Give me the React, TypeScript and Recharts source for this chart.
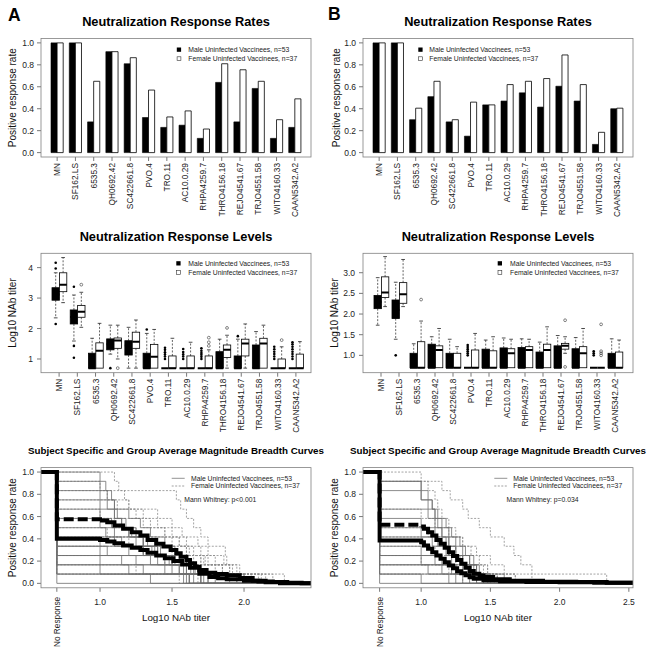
import React from "react";
import { BarChart, Bar, ComposedChart, LineChart, Line, XAxis, YAxis } from "recharts";

const W = 649;
const H = 654;
const FONT = '"Liberation Sans", Arial, Helvetica, sans-serif';

// isolates shown on the x axis of the top and middle rows
const isolates = [
  "MN", "SF162.LS", "6535.3", "QH0692.42", "SC422661.8", "PVO.4", "TRO.11",
  "AC10.0.29", "RHPA4259.7", "THRO4156.18", "REJO4541.67", "TRJO4551.58",
  "WITO4160.33", "CAAN5342.A2",
];

// positive response rates
const rateMaleA = [1.0, 1.0, 0.28, 0.92, 0.81, 0.32, 0.23, 0.25, 0.13, 0.64, 0.28, 0.585, 0.13, 0.23];
const rateFemaleA = [1.0, 1.0, 0.65, 0.92, 0.865, 0.57, 0.325, 0.38, 0.215, 0.81, 0.755, 0.65, 0.3, 0.49];
const rateMaleB = [1.0, 1.0, 0.3, 0.51, 0.28, 0.15, 0.435, 0.47, 0.545, 0.415, 0.605, 0.47, 0.075, 0.4];
const rateFemaleB = [1.0, 1.0, 0.405, 0.65, 0.3, 0.46, 0.435, 0.62, 0.65, 0.675, 0.89, 0.62, 0.185, 0.405];

// box stats: [lower whisker, q1, median, q3, upper whisker]
const boxMaleA = [
  [2.35, 2.93, 3.12, 3.34, 3.83], [1.59, 2.15, 2.38, 2.61, 3.1], [0.7, 0.7, 0.7, 1.19, 1.68],
  [1.16, 1.3, 1.48, 1.66, 2.11], [0.7, 1.13, 1.44, 1.6, 2.04], [0.7, 0.7, 0.7, 1.19, 1.84],
  [0.7, 0.7, 0.7, 0.7, 0.7], [0.7, 0.7, 0.7, 0.7, 0.7], [0.7, 0.7, 0.7, 0.7, 0.7],
  [0.7, 0.7, 0.7, 1.24, 1.65], [0.7, 0.7, 0.7, 1.1, 1.65], [0.7, 0.7, 0.7, 1.46, 1.9],
  [0.7, 0.7, 0.7, 0.7, 0.7], [0.7, 0.7, 0.7, 0.7, 0.7],
];
const outMaleA = [
  [4.16, 3.97, 2.15], [3.37, 1.43, 1.04], [], [0.7], [], [1.97],
  [1.0, 1.08, 1.15, 1.22, 1.3, 1.37], [1.0, 1.08, 1.15, 1.23, 1.33], [1.0, 1.07, 1.14, 1.2, 1.27, 1.35],
  [], [1.75], [], [1.0, 1.08, 1.16, 1.24, 1.32, 1.4], [1.0, 1.08, 1.16, 1.24, 1.32, 1.4, 1.48, 1.55],
];
const boxFemaleA = [
  [2.85, 3.21, 3.44, 3.83, 4.33], [2.04, 2.37, 2.55, 2.76, 3.19], [0.7, 0.7, 1.27, 1.53, 2.17],
  [1.0, 1.35, 1.61, 1.69, 2.11], [0.7, 1.35, 1.57, 1.88, 2.28], [0.7, 0.7, 1.07, 1.48, 1.97],
  [0.7, 0.7, 0.7, 1.1, 1.68], [0.7, 0.7, 0.7, 1.1, 1.55], [0.7, 0.7, 0.7, 1.1, 1.3],
  [0.7, 1.05, 1.3, 1.46, 1.78], [0.7, 1.1, 1.51, 1.65, 2.15], [0.7, 0.7, 1.51, 1.68, 2.11],
  [0.7, 0.7, 0.7, 1.0, 1.4], [0.7, 0.7, 0.7, 1.16, 1.57],
];
const outFemaleA = [[], [3.44], [], [0.7], [], [], [], [], [1.43, 1.55, 1.7], [2.02], [], [], [1.62], []];

const boxMaleB = [
  [1.73, 2.13, 2.29, 2.45, 2.88], [1.39, 1.89, 2.1, 2.34, 2.77], [0.7, 0.7, 0.7, 1.05, 1.28],
  [0.7, 0.7, 0.7, 1.27, 1.45], [0.7, 0.7, 0.7, 1.05, 1.39], [0.7, 0.7, 0.7, 0.7, 0.7],
  [0.7, 0.7, 0.7, 1.15, 1.37], [0.7, 0.7, 0.7, 1.18, 1.42], [0.7, 0.7, 0.7, 1.19, 1.4],
  [0.7, 0.7, 0.7, 1.08, 1.32], [0.7, 0.7, 0.7, 1.23, 1.48], [0.7, 0.7, 0.7, 1.16, 1.43],
  [0.7, 0.7, 0.7, 0.7, 0.7], [0.7, 0.7, 0.7, 1.05, 1.4],
];
const outMaleB = [[], [1.0], [], [], [], [1.0, 1.05, 1.1, 1.15, 1.2, 1.25], [], [], [], [], [], [], [1.0, 1.05, 1.1], []];
const boxFemaleB = [
  [2.18, 2.4, 2.52, 2.9, 3.39], [2.18, 2.26, 2.48, 2.76, 3.32], [0.7, 0.7, 0.7, 1.33, 1.83],
  [0.7, 0.7, 1.13, 1.23, 1.65], [0.7, 0.7, 0.7, 1.05, 1.21], [0.7, 0.7, 0.7, 1.13, 1.53],
  [0.7, 0.7, 0.7, 1.11, 1.45], [0.7, 0.7, 1.05, 1.16, 1.39], [0.7, 0.7, 1.13, 1.21, 1.39],
  [0.7, 0.7, 1.13, 1.27, 1.69], [1.05, 1.15, 1.23, 1.29, 1.45], [0.7, 0.7, 1.05, 1.21, 1.65],
  [0.7, 0.7, 0.7, 0.7, 0.7], [0.7, 0.7, 0.7, 1.08, 1.37],
];
const outFemaleB = [[], [], [2.35], [], [], [], [], [], [], [], [1.85, 0.72], [], [1.0, 1.05, 1.1, 1.75], []];

// magnitude breadth: log10 titers of positive tier 2 isolates per subject
const NO_RESPONSE = 0.7;
const N_TIER2 = 12;
const subjMaleA = [
  [1.0, 1.04, 1.08, 1.1, 1.12, 1.15, 1.2, 1.3, 1.38, 1.45, 1.6, 1.7],
  [1.0, 1.0, 1.05, 1.1, 1.18, 1.25, 1.33, 1.42, 1.5, 1.55, 1.62],
  [1.05, 1.1, 1.2, 1.28, 1.35, 1.45, 1.52, 1.6, 1.68, 1.75],
  [1.0, 1.1, 1.15, 1.22, 1.3, 1.4, 1.5, 1.58, 1.65],
  [1.0, 1.08, 1.2, 1.3, 1.36, 1.48, 1.6, 1.72],
  [1.0, 1.1, 1.25, 1.4, 1.55, 1.63, 1.8],
  [1.04, 1.15, 1.3, 1.5, 1.66, 1.75],
  [1.0, 1.2, 1.35, 1.55, 1.7],
  [1.1, 1.3, 1.52, 1.68, 1.95],
  [1.0, 1.25, 1.45, 1.6],
  [1.05, 1.4, 1.65, 1.9],
  [1.0, 1.3, 1.62],
  [1.15, 1.5, 2.0],
  [1.0, 1.58],
  [1.2, 1.7],
  [1.35],
  [1.62],
  [],
];
const subjFemaleA = [
  [1.1, 1.13, 1.17, 1.2, 1.25, 1.35, 1.45, 1.55, 1.62, 1.7, 1.85, 2.0],
  [1.0, 1.05, 1.12, 1.3, 1.4, 1.5, 1.55, 1.6, 1.72, 1.8, 2.05],
  [1.53, 1.56, 1.6, 1.65, 1.7, 1.75, 1.87, 1.88, 1.97, 2.28],
  [1.2, 1.4, 1.5, 1.57, 1.68, 1.75, 1.86, 1.95, 2.15],
  [1.0, 1.3, 1.45, 1.6, 1.7, 1.8, 1.92, 2.12],
  [1.1, 1.25, 1.5, 1.65, 1.73, 1.9, 2.0],
  [1.05, 1.4, 1.6, 1.75, 1.85, 2.2],
  [1.2, 1.5, 1.7, 1.9, 2.1],
  [1.3, 1.65, 1.85, 2.05],
  [1.45, 1.7, 1.95],
  [1.25, 1.68],
  [1.55],
];
const subjMaleB = [
  [1.0, 1.05, 1.08, 1.1, 1.12, 1.15, 1.18, 1.2, 1.22, 1.25, 1.3],
  [1.0, 1.0, 1.05, 1.1, 1.15, 1.2, 1.25, 1.3, 1.35, 1.4, 1.45],
  [1.0, 1.08, 1.12, 1.18, 1.22, 1.28, 1.32, 1.38, 1.42, 1.48],
  [1.05, 1.1, 1.15, 1.2, 1.25, 1.3, 1.36, 1.4],
  [1.0, 1.1, 1.2, 1.25, 1.35, 1.4, 1.45],
  [1.0, 1.12, 1.2, 1.3, 1.38, 1.5],
  [1.08, 1.18, 1.28, 1.4, 1.48],
  [1.0, 1.15, 1.25, 1.35],
  [1.1, 1.22, 1.45],
  [1.0, 1.3, 1.6],
  [1.05, 1.2],
  [1.15, 1.4],
  [1.0],
  [1.25],
  [],
];
const subjFemaleB = [
  [1.0, 1.05, 1.1, 1.12, 1.15, 1.2, 1.25, 1.3, 1.36, 1.42, 1.48, 1.55],
  [1.15, 1.21, 1.3, 1.34, 1.42, 1.5, 1.6, 1.67, 1.72, 1.8, 2.34],
  [1.0, 1.1, 1.2, 1.3, 1.4, 1.5, 1.6, 1.68],
  [1.05, 1.15, 1.25, 1.35, 1.48, 1.55],
  [1.0, 1.2, 1.3, 1.45, 1.53],
  [1.1, 1.25, 1.4, 1.8],
  [1.0, 1.35, 1.55],
  [1.2, 1.68],
  [1.3],
];

// group average curves [log10 titer, rate]
const avgMaleA = [
  [0.59, 1], [0.7, 0.4], [1.0, 0.39], [1.05, 0.375], [1.1, 0.36], [1.16, 0.34], [1.22, 0.32],
  [1.28, 0.3], [1.33, 0.275], [1.39, 0.25], [1.45, 0.225], [1.51, 0.2], [1.57, 0.17], [1.625, 0.14],
  [1.69, 0.087], [1.76, 0.057], [1.82, 0.045], [1.88, 0.036], [2.0, 0.024], [2.1, 0.017],
  [2.2, 0.012], [2.3, 0.005], [2.4, 0], [2.465, 0],
];
const avgFemaleA = [
  [0.59, 1], [0.7, 0.575], [1.0, 0.565], [1.05, 0.55], [1.1, 0.52], [1.16, 0.49], [1.22, 0.46],
  [1.28, 0.43], [1.33, 0.39], [1.39, 0.356], [1.44, 0.33], [1.49, 0.3], [1.53, 0.27], [1.56, 0.24],
  [1.6, 0.21], [1.625, 0.18], [1.66, 0.15], [1.69, 0.12], [1.74, 0.096], [1.8, 0.085],
  [1.88, 0.072], [1.97, 0.048], [2.06, 0.024], [2.15, 0.01], [2.25, 0], [2.465, 0],
];
const avgMaleB = [
  [0.58, 1], [0.7, 0.386], [1.0, 0.37], [1.02, 0.34], [1.05, 0.31], [1.08, 0.28], [1.11, 0.25],
  [1.14, 0.22], [1.17, 0.19], [1.2, 0.16], [1.23, 0.135], [1.26, 0.108], [1.29, 0.09], [1.32, 0.072],
  [1.35, 0.055], [1.38, 0.042], [1.45, 0.027], [1.57, 0.018], [1.76, 0.012], [2.0, 0.009],
  [2.25, 0.006], [2.53, 0.003],
];
const avgFemaleB = [
  [0.58, 1], [0.7, 0.527], [1.0, 0.51], [1.02, 0.49], [1.05, 0.46], [1.08, 0.43], [1.11, 0.39],
  [1.14, 0.356], [1.17, 0.32], [1.2, 0.28], [1.23, 0.245], [1.26, 0.21], [1.29, 0.175], [1.32, 0.14],
  [1.35, 0.11], [1.38, 0.087], [1.42, 0.07], [1.45, 0.057], [1.52, 0.036], [1.64, 0.024],
  [1.88, 0.015], [2.12, 0.012], [2.34, 0.006], [2.53, 0],
];

const rateTicks = [0, 0.2, 0.4, 0.6, 0.8, 1.0];

type Box = { x0: number; x1: number; y0: number; y1: number };
const boxTopA: Box = { x0: 41, x1: 311, y0: 38.5, y1: 157 };
const boxTopB: Box = { x0: 363, x1: 633, y0: 38.5, y1: 157 };
const boxMidA: Box = { x0: 41, x1: 311, y0: 253.3, y1: 372.7 };
const boxMidB: Box = { x0: 363, x1: 633, y0: 253.3, y1: 372.7 };
const boxBotA: Box = { x0: 41, x1: 311, y0: 467.6, y1: 587.8 };
const boxBotB: Box = { x0: 363, x1: 633, y0: 467.6, y1: 587.8 };

const layer: React.CSSProperties = { position: "absolute", left: 0, top: 0 };
const tickStyle = { fontSize: 8.5, fill: "#222", fontFamily: FONT };
const tickLine = { stroke: "#555", strokeWidth: 0.8 };

const RotTick = (props: any) => {
  const { x, y, payload } = props;
  return (
    <text transform={`translate(${x},${y}) rotate(-90)`} textAnchor="end" dominantBaseline="central"
      fontSize={8.3} fill="#222" fontFamily={FONT}>
      {payload.value}
    </text>
  );
};

const CurveTick = (props: any) => {
  const { x, y, payload } = props;
  if (payload.value < 0.9) {
    return (
      <text transform={`translate(${x},${y + 3}) rotate(-90)`} textAnchor="end" dominantBaseline="central"
        fontSize={8.3} fill="#222" fontFamily={FONT}>
        No Response
      </text>
    );
  }
  return (
    <text x={x} y={y + 11} textAnchor="middle" fontSize={8.5} fill="#222" fontFamily={FONT}>
      {payload.value.toFixed(1)}
    </text>
  );
};

function RatePanel({ box, male, female }: { box: Box; male: number[]; female: number[] }) {
  const data = isolates.map((name, i) => ({ name, male: male[i], female: female[i] }));
  return (
    <div style={layer}>
      <BarChart width={W} height={H} data={data} barGap={0} barSize={6.1}
        margin={{ top: box.y0, right: W - box.x1, left: 0, bottom: 0 }}>
        <XAxis dataKey="name" type="category" height={H - box.y1} padding={{ left: 7, right: 7 }}
          interval={0} tick={<RotTick />} tickSize={4} tickLine={tickLine} axisLine={false} />
        <YAxis type="number" domain={[-0.04, 1.04]} ticks={rateTicks} tickFormatter={(v: number) => v.toFixed(1)}
          width={box.x0} tickSize={4} tickMargin={3} axisLine={false} tick={tickStyle} tickLine={tickLine} />
        <Bar dataKey="male" fill="#000" stroke="#000" strokeWidth={0.6} isAnimationActive={false} />
        <Bar dataKey="female" fill="#fff" stroke="#000" strokeWidth={0.8} isAnimationActive={false} />
      </BarChart>
    </div>
  );
}

function LevelPanel(props: {
  box: Box; domain: [number, number]; ticks: number[]; digits: number; pad: { left: number; right: number };
  mStats: number[][]; fStats: number[][]; mOut: number[][]; fOut: number[][];
}) {
  const { box, domain, ticks, digits, pad, mStats, fStats, mOut, fOut } = props;
  const [D0, D1] = domain;
  const data = isolates.map((name, i) => ({
    name, spanM: domain, spanF: domain, ms: mStats[i], fs: fStats[i], mo: mOut[i], fo: fOut[i],
  }));

  // each bar spans the whole y domain, so its rectangle gives the y scale in pixels
  const shape = (sex: "m" | "f") => (p: any) => {
    const row = p.payload && p.payload.ms ? p.payload : data[p.index];
    const st: number[] = sex === "m" ? row.ms : row.fs;
    const out: number[] = sex === "m" ? row.mo : row.fo;
    const top = Math.min(p.y, p.y + p.height);
    const h = Math.abs(p.height);
    const py = (v: number) => top + ((D1 - v) / (D1 - D0)) * h;
    const x = p.x, w = p.width, cx = x + w / 2;
    const [lo, q1, med, q3, hi] = st;
    const fill = sex === "m" ? "#000" : "#fff";
    return (
      <g>
        {hi > q3 && <line x1={cx} x2={cx} y1={py(q3)} y2={py(hi)} stroke="#222" strokeWidth={0.7} strokeDasharray="2 1.5" />}
        {hi > q3 && <line x1={cx - w / 4} x2={cx + w / 4} y1={py(hi)} y2={py(hi)} stroke="#222" strokeWidth={0.8} />}
        {lo < q1 && <line x1={cx} x2={cx} y1={py(q1)} y2={py(lo)} stroke="#222" strokeWidth={0.7} strokeDasharray="2 1.5" />}
        {lo < q1 && <line x1={cx - w / 4} x2={cx + w / 4} y1={py(lo)} y2={py(lo)} stroke="#222" strokeWidth={0.8} />}
        {q3 > q1 && <rect x={x} y={py(q3)} width={w} height={py(q1) - py(q3)} fill={fill} stroke="#000" strokeWidth={0.8} />}
        <line x1={x} x2={x + w} y1={py(med)} y2={py(med)} stroke="#000" strokeWidth={2} />
        {out.map((v, k) => (
          sex === "m"
            ? <circle key={k} cx={cx} cy={py(v)} r={1.3} fill="#000" />
            : <circle key={k} cx={cx} cy={py(v)} r={1.4} fill="none" stroke="#333" strokeWidth={0.6} />
        ))}
      </g>
    );
  };

  return (
    <div style={layer}>
      <ComposedChart width={W} height={H} data={data} barGap={0} barSize={7.4}
        margin={{ top: box.y0, right: W - box.x1, left: 0, bottom: 0 }}>
        <XAxis dataKey="name" type="category" height={H - box.y1} padding={pad}
          interval={0} tick={<RotTick />} tickSize={4} tickLine={tickLine} axisLine={false} />
        <YAxis type="number" domain={domain} allowDataOverflow ticks={ticks}
          tickFormatter={(v: number) => v.toFixed(digits)}
          width={box.x0} tickSize={4} tickMargin={4} axisLine={false} tick={tickStyle} tickLine={tickLine} />
        <Bar dataKey="spanM" shape={shape("m")} isAnimationActive={false} />
        <Bar dataKey="spanF" shape={shape("f")} isAnimationActive={false} />
      </ComposedChart>
    </div>
  );
}

function stepPoints(titers: number[], xStart: number, xEnd: number) {
  const s = [...titers].sort((a, b) => a - b);
  const n = s.length;
  const pts = [{ x: xStart, y: 1 }, { x: NO_RESPONSE, y: n / N_TIER2 }];
  s.forEach((t, k) => pts.push({ x: t, y: (n - k - 1) / N_TIER2 }));
  pts.push({ x: xEnd, y: 0 });
  return pts;
}

function CurvePanel(props: {
  box: Box; xDomain: [number, number]; xTicks: number[];
  males: number[][]; females: number[][]; avgM: number[][]; avgF: number[][];
}) {
  const { box, xDomain, xTicks, males, females, avgM, avgF } = props;
  const toPts = (arr: number[][]) => arr.map(([x, y]) => ({ x, y }));
  // female average: dashed on the flat part, then the dense steps
  const fFlat = toPts(avgF.filter(([x]) => x <= 1.0));
  const fSteps = toPts(avgF.filter(([x]) => x >= 1.0));
  return (
    <div style={layer}>
      <LineChart width={W} height={H} margin={{ top: box.y0, right: W - box.x1, left: 0, bottom: 0 }}>
        <XAxis type="number" dataKey="x" domain={xDomain} allowDataOverflow ticks={xTicks} height={H - box.y1}
          tick={<CurveTick />} tickSize={4} tickLine={tickLine} axisLine={false} interval={0} />
        <YAxis type="number" domain={[-0.04, 1.04]} ticks={rateTicks} tickFormatter={(v: number) => v.toFixed(1)}
          width={box.x0} tickSize={4} tickMargin={3} axisLine={false} tick={tickStyle} tickLine={tickLine} />
        {females.map((t, i) => (
          <Line key={"f" + i} data={stepPoints(t, xDomain[0], xDomain[1])} dataKey="y" type="stepAfter"
            stroke="#8c8c8c" strokeWidth={0.8} strokeDasharray="2 1.5" dot={false} isAnimationActive={false} />
        ))}
        {males.map((t, i) => (
          <Line key={"m" + i} data={stepPoints(t, xDomain[0], xDomain[1])} dataKey="y" type="stepAfter"
            stroke="#6f6f6f" strokeWidth={0.8} dot={false} isAnimationActive={false} />
        ))}
        <Line data={fFlat} dataKey="y" type="stepAfter" stroke="#000" strokeWidth={4}
          strokeDasharray="10 4" dot={false} isAnimationActive={false} />
        <Line data={fSteps} dataKey="y" type="stepAfter" stroke="#000" strokeWidth={4}
          dot={false} isAnimationActive={false} />
        <Line data={toPts(avgM)} dataKey="y" type="stepAfter" stroke="#000" strokeWidth={4}
          dot={false} isAnimationActive={false} />
      </LineChart>
    </div>
  );
}

function SquareLegend({ x, y, tx }: { x: number; y: number; tx: number }) {
  return (
    <g fontSize={6.8} fill="#222">
      <rect x={x} y={y} width={4.3} height={4.3} fill="#000" />
      <rect x={x + 0.3} y={y + 9.3} width={3.8} height={3.8} fill="#fff" stroke="#333" strokeWidth={0.6} />
      <text x={tx} y={y + 4.6}>Male Uninfected Vaccinees, n=53</text>
      <text x={tx} y={y + 13.6}>Female Uninfected Vaccinees, n=37</text>
    </g>
  );
}

function LineLegend({ x, y, tx, mw }: { x: number; y: number; tx: number; mw: string }) {
  return (
    <g fontSize={6.8} fill="#222">
      <line x1={x} x2={x + 13} y1={y} y2={y} stroke="#777" strokeWidth={0.8} />
      <line x1={x} x2={x + 13} y1={y + 7.7} y2={y + 7.7} stroke="#888" strokeWidth={0.8} strokeDasharray="2 1.5" />
      <text x={tx} y={y + 2.4}>Male Uninfected Vaccinees, n=53</text>
      <text x={tx} y={y + 10.1}>Female Uninfected Vaccinees, n=37</text>
      <text x={x + 12.6 + (tx - x - 19.3)} y={y + 23.5}>{mw}</text>
    </g>
  );
}

function Overlay() {
  const boxes = [boxTopA, boxTopB, boxMidA, boxMidB, boxBotA, boxBotB];
  const cx = (b: Box) => (b.x0 + b.x1) / 2;
  const cy = (b: Box) => (b.y0 + b.y1) / 2;
  const yLabel = (x: number, b: Box, s: string) => (
    <text transform={`translate(${x},${cy(b)}) rotate(-90)`} textAnchor="middle" fontSize={10} fill="#111">{s}</text>
  );
  return (
    <svg width={W} height={H} style={{ ...layer, pointerEvents: "none" }} fontFamily={FONT}>
      {boxes.map((b, i) => (
        <rect key={i} x={b.x0} y={b.y0} width={b.x1 - b.x0} height={b.y1 - b.y0} fill="none" stroke="#808080" strokeWidth={0.8} />
      ))}
      <text x={8} y={20.7} fontSize={17.5} fontWeight="bold">A</text>
      <text x={328} y={20.3} fontSize={17.5} fontWeight="bold">B</text>

      <text x={cx(boxTopA)} y={26.3} textAnchor="middle" fontSize={12.8} fontWeight="bold">Neutralization Response Rates</text>
      <text x={cx(boxTopB)} y={26.3} textAnchor="middle" fontSize={12.8} fontWeight="bold">Neutralization Response Rates</text>
      <text x={cx(boxMidA)} y={241} textAnchor="middle" fontSize={12.8} fontWeight="bold">Neutralization Response Levels</text>
      <text x={cx(boxMidB)} y={241} textAnchor="middle" fontSize={12.8} fontWeight="bold">Neutralization Response Levels</text>
      <text x={cx(boxBotA)} y={454.3} textAnchor="middle" fontSize={9.8} fontWeight="bold">Subject Specific and Group Average Magnitude Breadth Curves</text>
      <text x={cx(boxBotB)} y={454.3} textAnchor="middle" fontSize={9.8} fontWeight="bold">Subject Specific and Group Average Magnitude Breadth Curves</text>

      {yLabel(15.5, boxTopA, "Positive response rate")}
      {yLabel(339.5, boxTopB, "Positive response rate")}
      {yLabel(15.5, boxMidA, "Log10 NAb titer")}
      {yLabel(337.5, boxMidB, "Log10 NAb titer")}
      {yLabel(15.5, boxBotA, "Positive response rate")}
      {yLabel(337.5, boxBotB, "Positive response rate")}

      <text x={cx(boxBotA)} y={620.7} textAnchor="middle" fontSize={9.8} fill="#111">Log10 NAb titer</text>
      <text x={cx(boxBotB)} y={620.7} textAnchor="middle" fontSize={9.8} fill="#111">Log10 NAb titer</text>

      <SquareLegend x={176.8} y={47.5} tx={188.3} />
      <SquareLegend x={418.3} y={47.5} tx={429.3} />
      <SquareLegend x={176.3} y={261.2} tx={188.3} />
      <SquareLegend x={497.7} y={261.2} tx={510} />
      <LineLegend x={171.7} y={478.3} tx={191} mw="Mann Whitney: p<0.001" />
      <LineLegend x={494.3} y={478.3} tx={513.3} mw="Mann Whitney: p=0.034" />
    </svg>
  );
}

export default function App() {
  return (
    <div style={{ position: "absolute", left: 0, top: 0, width: W, height: H, background: "#fff", fontFamily: FONT }}>
      <RatePanel box={boxTopA} male={rateMaleA} female={rateFemaleA} />
      <RatePanel box={boxTopB} male={rateMaleB} female={rateFemaleB} />
      <LevelPanel box={boxMidA} domain={[0.55, 4.47]} ticks={[1, 2, 3, 4]} digits={0} pad={{ left: 9, right: 6 }}
        mStats={boxMaleA} fStats={boxFemaleA} mOut={outMaleA} fOut={outFemaleA} />
      <LevelPanel box={boxMidB} domain={[0.58, 3.47]} ticks={[1, 1.5, 2, 2.5, 3]} digits={1} pad={{ left: 9, right: 9 }}
        mStats={boxMaleB} fStats={boxFemaleB} mOut={outMaleB} fOut={outFemaleB} />
      <CurvePanel box={boxBotA} xDomain={[0.59, 2.465]} xTicks={[NO_RESPONSE, 1, 1.5, 2]}
        males={subjMaleA} females={subjFemaleA} avgM={avgMaleA} avgF={avgFemaleA} />
      <CurvePanel box={boxBotB} xDomain={[0.58, 2.53]} xTicks={[NO_RESPONSE, 1, 1.5, 2, 2.5]}
        males={subjMaleB} females={subjFemaleB} avgM={avgMaleB} avgF={avgFemaleB} />
      <Overlay />
    </div>
  );
}
